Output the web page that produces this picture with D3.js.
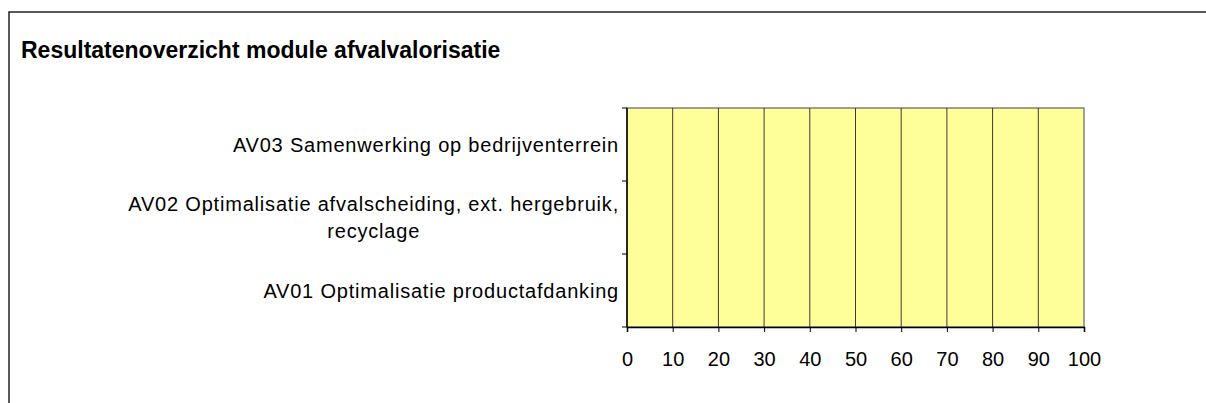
<!DOCTYPE html>
<html>
<head>
<meta charset="utf-8">
<script src="https://cdn.jsdelivr.net/npm/d3@7"></script>
<style>
  body { margin: 0; background: #fff; }
  svg { display: block; font-family: "Liberation Sans", Arial, sans-serif; }
</style>
</head>
<body>
<div id="chart"></div>
<script>
// chart data
const categories = [
    "AV01 Optimalisatie productafdanking",
    "AV02 Optimalisatie afvalscheiding, ext. hergebruik, recyclage",
    "AV03 Samenwerking op bedrijventerrein"
];
const labelLines = [
    ["AV01 Optimalisatie productafdanking"],
    ["AV02 Optimalisatie afvalscheiding, ext. hergebruik,", "recyclage"],
    ["AV03 Samenwerking op bedrijventerrein"]
];
const scores = [0, 0, 0];
const xTicks = [0, 10, 20, 30, 40, 50, 60, 70, 80, 90, 100];
const title = "Resultatenoverzicht module afvalvalorisatie";

const width = 1206, height = 403;
const plot = { left: 627, right: 1084, top: 108, bottom: 327 };

const svg = d3.select("#chart")
    .append("svg")
    .attr("width", width)
    .attr("height", height);

// outer frame (runs off the right and bottom edges)
svg.append("rect")
    .attr("x", 9)
    .attr("y", 12)
    .attr("width", width + 20)
    .attr("height", height + 20)
    .attr("fill", "#fff")
    .attr("stroke", "#222")
    .attr("stroke-width", 1.5);

svg.append("text")
    .attr("x", 21)
    .attr("y", 58)
    .attr("font-size", 23)
    .attr("font-weight", "bold")
    .attr("fill", "#000")
    .text(title);

const xScale = d3.scaleLinear()
    .domain([0, 100])
    .range([plot.left, plot.right]);

// Excel puts the first category at the bottom
const yScale = d3.scaleBand()
    .domain(categories.slice().reverse())
    .range([plot.top, plot.bottom]);

// plot area
svg.append("rect")
    .attr("x", plot.left)
    .attr("y", plot.top)
    .attr("width", plot.right - plot.left)
    .attr("height", plot.bottom - plot.top)
    .attr("fill", "#ffff99")
    .attr("stroke", "#808080")
    .attr("stroke-width", 1.5);

// vertical gridlines
svg.append("g")
    .selectAll("line")
    .data(xTicks.slice(1, -1))
    .join("line")
    .attr("x1", d => xScale(d))
    .attr("x2", d => xScale(d))
    .attr("y1", plot.top)
    .attr("y2", plot.bottom)
    .attr("stroke", "#3a3a3a")
    .attr("stroke-width", 1);

// bars (all zero)
svg.append("g")
    .selectAll("rect")
    .data(categories.map((c, i) => ({ cat: c, value: scores[i] })))
    .join("rect")
    .attr("x", xScale(0))
    .attr("y", d => yScale(d.cat) + yScale.bandwidth() * 0.25)
    .attr("width", d => xScale(d.value) - xScale(0))
    .attr("height", yScale.bandwidth() * 0.5)
    .attr("fill", "#9999ff");

// x axis
const xAxis = d3.axisBottom(xScale)
    .tickValues(xTicks)
    .tickSize(5)
    .tickPadding(20)
    .tickFormat(d3.format("d"));

const gx = svg.append("g")
    .attr("transform", `translate(0,${plot.bottom})`)
    .call(xAxis);
gx.select(".domain").attr("stroke", "#000").attr("stroke-width", 1.5);
gx.selectAll(".tick line").attr("stroke", "#000");
gx.selectAll(".tick text")
    .attr("font-size", 20)
    .attr("font-family", "Liberation Sans, Arial, sans-serif")
    .attr("fill", "#000");

// y axis: ticks on band boundaries
const yBounds = [plot.top, ...categories.map(c => yScale(c) + yScale.bandwidth())];
svg.append("g")
    .selectAll("line")
    .data(yBounds)
    .join("line")
    .attr("x1", plot.left - 5)
    .attr("x2", plot.left)
    .attr("y1", d => d)
    .attr("y2", d => d)
    .attr("stroke", "#000");
svg.append("line")
    .attr("x1", plot.left)
    .attr("x2", plot.left)
    .attr("y1", plot.top)
    .attr("y2", plot.bottom)
    .attr("stroke", "#000")
    .attr("stroke-width", 1.5);

// category labels
const lineH = 27;
const labels = svg.append("g")
    .selectAll("text")
    .data(categories.map((c, i) => ({ cat: c, lines: labelLines[i] })))
    .join("text")
    .attr("text-anchor", "middle")
    .attr("font-size", 20)
    .attr("letter-spacing", 0.8)
    .attr("fill", "#000")
    .attr("transform", d => `translate(0,${yScale(d.cat) + yScale.bandwidth() / 2})`);

labels.each(function (d) {
    const t = d3.select(this);
    const n = d.lines.length;
    d.lines.forEach((ln, j) => {
        t.append("tspan")
            .attr("x", 0)
            .attr("y", (j - (n - 1) / 2) * lineH)
            .attr("dy", "0.35em")
            .text(ln);
    });
});

// right-align block, centre wrapped lines within it
labels.each(function () {
    const t = d3.select(this);
    const w = this.getBBox().width;
    t.selectAll("tspan").attr("x", 619 - w / 2);
});
</script>
</body>
</html>
